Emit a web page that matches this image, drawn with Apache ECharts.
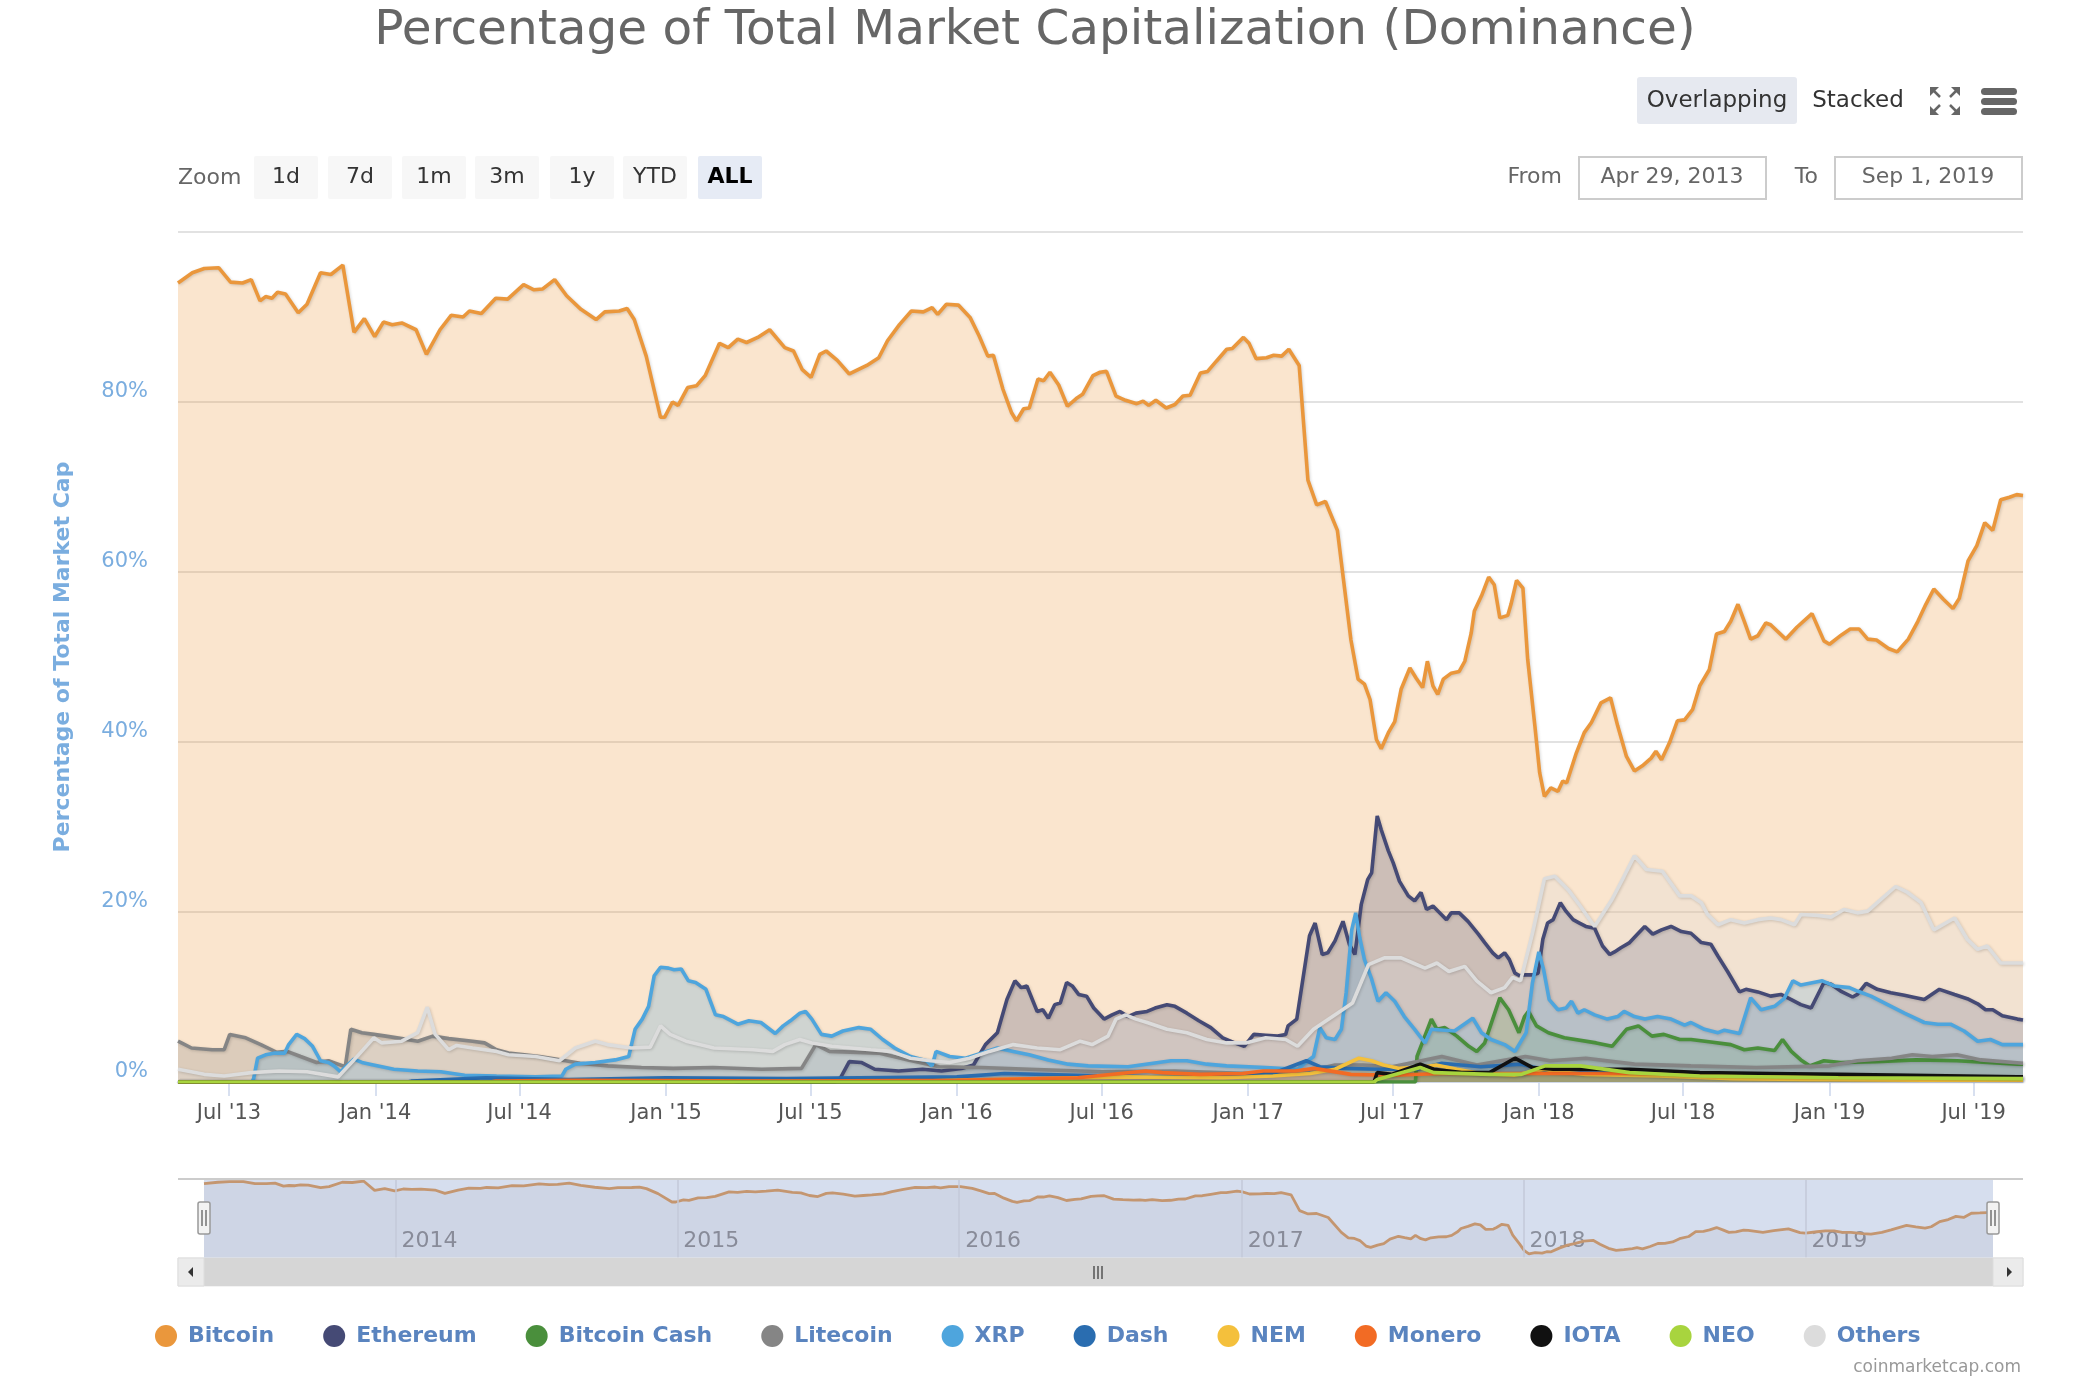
<!DOCTYPE html>
<html><head><meta charset="utf-8">
<script src="https://cdn.jsdelivr.net/npm/echarts@6/dist/echarts.min.js"></script>
<style>html,body{margin:0;padding:0;background:#fff}#c{width:2094px;height:1380px}</style>
</head><body><div id="c"></div>
<script>
// ---------------- DATA ----------------
const bitcoin = [
['2013-04-28',94.0],['2013-05-16',95.2],['2013-05-31',95.7],['2013-06-18',95.8],['2013-07-03',94.1],['2013-07-18',94.0],['2013-07-29',94.4],['2013-08-09',91.9],['2013-08-16',92.4],['2013-08-24',92.2],['2013-08-31',92.9],['2013-09-10',92.7],['2013-09-26',90.5],['2013-10-07',91.5],['2013-10-24',95.2],['2013-11-06',95.0],['2013-11-21',96.1],['2013-12-05',88.2],['2013-12-18',89.8],['2013-12-31',87.7],
['2014-01-11',89.4],['2014-01-22',89.1],['2014-02-03',89.3],['2014-02-21',88.5],['2014-03-06',85.6],['2014-03-23',88.5],['2014-04-06',90.2],['2014-04-21',90.0],['2014-04-29',90.7],['2014-05-14',90.4],['2014-06-01',92.2],['2014-06-16',92.1],['2014-07-06',93.8],['2014-07-19',93.2],['2014-07-30',93.3],['2014-08-14',94.4],['2014-08-29',92.5],['2014-09-16',90.9],['2014-10-05',89.7],['2014-10-16',90.6],['2014-11-03',90.7],['2014-11-13',91.0],['2014-11-22',89.7],['2014-12-07',85.4],['2014-12-25',78.2],['2014-12-30',78.2],
['2015-01-09',80.0],['2015-01-16',79.6],['2015-01-28',81.7],['2015-02-08',81.9],['2015-02-19',83.1],['2015-03-09',86.9],['2015-03-20',86.4],['2015-04-01',87.4],['2015-04-12',87.0],['2015-04-26',87.6],['2015-05-11',88.5],['2015-05-30',86.4],['2015-06-10',86.0],['2015-06-21',83.8],['2015-07-02',82.9],['2015-07-13',85.6],['2015-07-21',86.0],['2015-08-04',84.9],['2015-08-19',83.3],['2015-08-30',83.8],['2015-09-10',84.3],['2015-09-25',85.2],['2015-10-06',87.2],['2015-10-21',89.1],['2015-11-05',90.7],['2015-11-20',90.6],['2015-12-01',91.1],['2015-12-08',90.3],['2015-12-19',91.5],
['2016-01-03',91.4],['2016-01-18',89.9],['2016-01-29',87.8],['2016-02-09',85.4],['2016-02-16',85.5],['2016-02-28',81.5],['2016-03-10',78.7],['2016-03-16',77.8],['2016-03-25',79.2],['2016-04-01',79.3],['2016-04-12',82.7],['2016-04-19',82.5],['2016-04-27',83.5],['2016-05-08',82.0],['2016-05-19',79.5],['2016-05-30',80.4],['2016-06-07',80.9],['2016-06-20',83.1],['2016-06-29',83.5],['2016-07-07',83.6],['2016-07-19',80.7],['2016-07-31',80.2],['2016-08-14',79.8],['2016-08-22',80.1],['2016-08-29',79.6],['2016-09-07',80.2],['2016-09-20',79.3],['2016-10-01',79.7],['2016-10-11',80.7],['2016-10-20',80.8],['2016-11-02',83.4],['2016-11-11',83.6],['2016-11-22',84.8],['2016-12-05',86.2],['2016-12-12',86.3],['2016-12-26',87.6],
['2017-01-02',86.9],['2017-01-11',85.1],['2017-01-24',85.2],['2017-02-02',85.5],['2017-02-12',85.4],['2017-02-21',86.2],['2017-03-06',84.3],['2017-03-17',70.8],['2017-03-28',67.9],['2017-04-08',68.3],['2017-04-23',64.9],['2017-05-10',52.0],['2017-05-19',47.4],['2017-05-27',46.8],['2017-06-03',45.0],['2017-06-11',40.3],['2017-06-17',39.2],['2017-06-26',41.1],['2017-07-04',42.4],['2017-07-12',46.2],['2017-07-23',48.7],['2017-07-31',47.5],['2017-08-08',46.4],['2017-08-14',49.5],['2017-08-21',46.6],['2017-08-27',45.6],['2017-09-03',47.4],['2017-09-13',48.1],['2017-09-23',48.3],['2017-09-30',49.5],['2017-10-08',52.8],['2017-10-12',55.4],['2017-10-21',57.2],['2017-10-30',59.4],['2017-11-06',58.5],['2017-11-13',54.6],['2017-11-23',54.9],['2017-11-27',56.2],['2017-12-04',59.0],['2017-12-12',58.1],['2017-12-18',49.7],['2017-12-27',41.9],
['2018-01-02',36.4],['2018-01-08',33.6],['2018-01-16',34.6],['2018-01-25',34.2],['2018-01-31',35.4],['2018-02-05',35.2],['2018-02-17',38.7],['2018-02-27',41.1],['2018-03-08',42.3],['2018-03-20',44.6],['2018-04-01',45.2],['2018-04-10',41.9],['2018-04-21',38.3],['2018-05-01',36.6],['2018-05-11',37.2],['2018-05-22',38.1],['2018-05-28',38.9],['2018-06-04',37.9],['2018-06-14',39.9],['2018-06-24',42.5],['2018-07-03',42.6],['2018-07-13',43.8],['2018-07-22',46.6],['2018-08-03',48.5],['2018-08-12',52.7],['2018-08-22',53.0],['2018-08-30',54.2],['2018-09-08',56.2],['2018-09-16',54.2],['2018-09-24',52.1],['2018-10-03',52.5],['2018-10-13',54.0],['2018-10-19',53.8],['2018-11-07',52.1],['2018-11-21',53.5],['2018-12-10',55.1],['2018-12-25',51.9],
['2019-01-01',51.5],['2019-01-16',52.6],['2019-01-27',53.3],['2019-02-07',53.3],['2019-02-18',52.1],['2019-03-01',52.0],['2019-03-16',51.0],['2019-03-27',50.6],['2019-04-10',52.1],['2019-04-22',54.2],['2019-05-02',56.2],['2019-05-12',58.0],['2019-05-24',56.8],['2019-06-05',55.7],['2019-06-13',56.9],['2019-06-24',61.3],['2019-07-05',63.1],['2019-07-15',65.8],['2019-07-25',64.9],['2019-08-04',68.5],['2019-08-15',68.8],['2019-08-24',69.1],['2019-09-01',69.0]
];
const ethereum = [
['2013-04-28',0],['2015-08-01',0],
['2015-08-08',0.5],['2015-08-19',2.4],['2015-09-03',2.3],['2015-09-20',1.5],['2015-10-20',1.3],['2015-11-19',1.5],['2015-12-13',1.3],['2016-01-07',1.6],['2016-01-22',2.0],['2016-02-06',4.4],['2016-02-21',5.8],['2016-03-04',9.7],['2016-03-14',11.9],['2016-03-22',11.1],['2016-03-29',11.3],['2016-04-11',8.3],['2016-04-18',8.5],['2016-04-25',7.5],['2016-05-03',9.1],['2016-05-10',9.3],['2016-05-18',11.7],['2016-05-25',11.3],['2016-06-02',10.3],['2016-06-12',10.1],['2016-06-21',8.7],['2016-07-04',7.4],['2016-07-14',7.9],['2016-07-24',8.3],['2016-08-03',7.7],['2016-08-13',8.1],['2016-08-27',8.3],['2016-09-06',8.7],['2016-09-21',9.1],['2016-10-01',8.9],['2016-10-16',8.1],['2016-10-31',7.2],['2016-11-15',6.4],['2016-11-30',5.2],['2016-12-15',4.6],['2016-12-27',4.2],
['2017-01-08',5.6],['2017-01-23',5.5],['2017-02-07',5.4],['2017-02-17',5.6],['2017-02-20',6.6],['2017-03-03',7.4],['2017-03-19',17.2],['2017-03-26',18.7],['2017-04-04',15.0],['2017-04-11',15.2],['2017-04-20',16.6],['2017-04-30',18.9],['2017-05-08',16.2],['2017-05-15',15.0],['2017-05-23',20.9],['2017-05-31',23.8],['2017-06-05',24.6],['2017-06-12',31.3],['2017-06-17',29.7],['2017-06-26',27.2],['2017-07-02',25.8],['2017-07-10',23.6],['2017-07-21',21.9],['2017-07-29',21.3],['2017-08-06',22.3],['2017-08-13',20.3],['2017-08-21',20.7],['2017-09-07',19.1],['2017-09-13',19.9],['2017-09-23',19.9],['2017-10-04',18.9],['2017-10-17',17.4],['2017-10-25',16.4],['2017-11-04',15.2],['2017-11-11',14.6],['2017-11-19',15.2],['2017-11-25',14.4],['2017-12-02',12.8],['2017-12-08',12.5],['2017-12-14',12.6],['2017-12-24',12.6],['2017-12-31',12.8],
['2018-01-06',16.8],['2018-01-12',18.7],['2018-01-19',19.1],['2018-01-28',21.1],['2018-02-04',20.1],['2018-02-13',19.1],['2018-02-21',18.7],['2018-03-01',18.3],['2018-03-12',18.1],['2018-03-22',16.0],['2018-03-31',15.0],['2018-04-06',15.3],['2018-04-14',15.8],['2018-04-25',16.4],['2018-05-05',17.4],['2018-05-14',18.3],['2018-05-24',17.4],['2018-06-04',17.9],['2018-06-16',18.3],['2018-06-29',17.7],['2018-07-11',17.5],['2018-07-24',16.4],['2018-08-05',16.2],['2018-08-14',14.8],['2018-08-26',13.0],['2018-09-10',10.6],['2018-09-18',10.9],['2018-10-03',10.6],['2018-10-19',10.1],['2018-11-01',10.3],['2018-11-14',9.7],['2018-11-26',9.1],['2018-12-09',8.7],['2018-12-25',11.7],
['2019-01-03',11.5],['2019-01-15',10.7],['2019-01-30',10.0],['2019-02-05',10.3],['2019-02-16',11.6],['2019-03-02',10.9],['2019-03-19',10.5],['2019-04-05',10.2],['2019-04-15',10.0],['2019-04-30',9.7],['2019-05-19',10.9],['2019-06-07',10.3],['2019-06-23',9.8],['2019-07-06',9.2],['2019-07-16',8.5],['2019-07-25',8.5],['2019-08-06',7.8],['2019-08-25',7.4],['2019-09-01',7.3]
];
const bitcoinCash = [
['2013-04-28',0],['2017-07-30',0],
['2017-08-01',3.0],['2017-08-19',7.4],['2017-08-26',6.2],['2017-09-05',6.4],['2017-09-20',5.4],['2017-10-05',4.2],['2017-10-15',3.6],['2017-10-25',4.6],['2017-11-04',7.4],['2017-11-13',9.9],['2017-11-24',8.5],['2017-12-07',5.8],['2017-12-14',7.7],['2017-12-19',8.3],['2017-12-29',6.6],['2018-01-13',5.8],['2018-02-02',5.2],['2018-03-14',4.6],['2018-04-03',4.2],['2018-04-21',6.2],['2018-05-06',6.6],['2018-05-23',5.4],['2018-06-07',5.6],['2018-06-27',5.0],['2018-07-11',5.0],['2018-08-05',4.7],['2018-08-30',4.4],['2018-09-16',3.8],['2018-10-03',4.0],['2018-10-24',3.7],['2018-11-03',5.0],['2018-11-14',3.6],['2018-11-26',2.6],['2018-12-07',1.9],['2018-12-25',2.5],['2019-01-15',2.3],['2019-03-01',2.4],['2019-04-20',2.6],['2019-06-10',2.5],['2019-08-25',2.1],['2019-09-01',2.1]
];
const litecoin = [
['2013-04-28',4.8],['2013-05-15',4.0],['2013-06-10',3.8],['2013-06-25',3.8],['2013-07-02',5.6],['2013-07-22',5.2],['2013-08-10',4.4],['2013-08-30',3.5],['2013-09-12',3.6],['2013-09-29',3.0],['2013-10-19',2.3],['2013-11-03',2.5],['2013-11-15',2.1],['2013-11-24',1.8],['2013-12-01',6.2],['2013-12-15',5.8],['2013-12-30',5.6],['2014-01-14',5.4],['2014-02-03',5.1],['2014-02-23',4.8],['2014-03-14',5.4],['2014-04-03',5.1],['2014-05-03',4.8],['2014-05-18',4.6],['2014-06-02',3.8],['2014-06-17',3.4],['2014-07-07',3.2],['2014-07-26',3.0],['2014-08-15',2.7],['2014-09-15',2.2],['2014-10-20',1.9],['2014-12-01',1.7],['2015-01-10',1.6],['2015-03-01',1.7],['2015-05-01',1.5],['2015-06-20',1.6],['2015-07-08',4.4],['2015-07-25',3.6],['2015-09-25',3.4],['2015-11-01',2.6],['2015-12-10',1.8],['2016-02-01',1.7],['2016-04-01',1.5],['2016-07-01',1.2],['2016-10-01',1.3],['2017-01-01',1.0],['2017-03-15',1.2],['2017-04-20',2.0],['2017-05-25',2.0],['2017-07-01',1.8],['2017-09-01',3.0],['2017-10-15',2.0],['2017-12-15',3.0],['2018-01-15',2.5],['2018-03-01',2.8],['2018-05-01',2.1],['2018-07-11',1.9],['2018-10-01',1.7],['2019-01-01',1.9],['2019-02-05',2.5],['2019-03-20',2.8],['2019-04-15',3.2],['2019-05-10',3.0],['2019-06-10',3.2],['2019-07-10',2.6],['2019-09-01',2.2]
];
const xrp = [
['2013-04-28',0],['2013-07-30',0],
['2013-08-01',0.4],['2013-08-06',2.8],['2013-08-16',3.2],['2013-08-28',3.4],['2013-09-09',3.4],['2013-09-14',4.4],['2013-09-24',5.6],['2013-10-04',5.1],['2013-10-14',4.2],['2013-10-24',2.5],['2013-11-03',2.3],['2013-11-10',1.9],['2013-11-18',1.2],['2013-12-05',2.7],['2013-12-15',2.3],['2013-12-25',2.1],['2014-01-24',1.5],['2014-02-23',1.3],['2014-03-24',1.2],['2014-04-23',0.8],['2014-06-02',0.7],['2014-07-21',0.6],['2014-08-23',0.7],['2014-08-28',1.5],['2014-09-09',2.1],['2014-10-04',2.3],['2014-10-29',2.6],['2014-11-15',3.0],['2014-11-23',6.2],['2014-12-02',7.4],['2014-12-10',8.9],['2014-12-17',12.5],['2014-12-25',13.5],
['2015-01-04',13.4],['2015-01-11',13.2],['2015-01-20',13.3],['2015-01-29',11.9],['2015-02-07',11.7],['2015-02-20',10.9],['2015-03-04',7.9],['2015-03-14',7.7],['2015-04-01',6.8],['2015-04-15',7.2],['2015-04-30',7.0],['2015-05-18',5.7],['2015-05-28',6.6],['2015-06-06',7.2],['2015-06-18',8.1],['2015-06-25',8.3],['2015-07-03',7.4],['2015-07-15',5.6],['2015-07-28',5.4],['2015-08-11',6.0],['2015-08-31',6.4],['2015-09-15',6.2],['2015-09-30',5.0],['2015-10-15',4.0],['2015-11-04',3.0],['2015-11-24',2.5],['2015-12-01',1.9],['2015-12-06',3.6],['2015-12-23',3.0],
['2016-01-12',2.8],['2016-02-01',3.4],['2016-02-21',4.0],['2016-03-12',3.6],['2016-04-01',3.2],['2016-04-25',2.6],['2016-05-20',2.1],['2016-06-14',1.9],['2016-08-03',1.8],['2016-09-26',2.5],['2016-10-16',2.5],['2016-11-10',2.1],['2016-12-05',1.9],['2017-01-23',1.7],['2017-03-04',1.5],['2017-03-14',2.3],['2017-03-24',3.0],['2017-04-01',6.4],['2017-04-09',5.2],['2017-04-20',5.0],['2017-04-28',6.2],['2017-05-04',10.5],['2017-05-11',17.9],['2017-05-16',19.9],['2017-05-21',17.0],['2017-05-27',14.4],['2017-06-05',12.1],['2017-06-13',9.5],['2017-06-23',10.5],['2017-07-04',9.5],['2017-07-16',7.7],['2017-07-29',6.2],['2017-08-11',4.6],['2017-08-19',6.2],['2017-09-17',6.0],['2017-10-10',7.5],['2017-10-21',5.8],['2017-11-02',5.0],['2017-11-19',4.4],['2017-12-02',3.6],['2017-12-16',5.8],['2017-12-24',11.7],
['2018-01-01',15.3],['2018-01-07',13.2],['2018-01-14',9.7],['2018-01-25',8.5],['2018-02-04',8.7],['2018-02-11',9.5],['2018-02-19',8.1],['2018-02-27',8.5],['2018-03-12',7.9],['2018-03-28',7.4],['2018-04-10',7.7],['2018-04-18',8.3],['2018-05-01',7.7],['2018-05-14',7.4],['2018-05-30',7.7],['2018-06-16',7.4],['2018-07-03',6.7],['2018-07-11',7.0],['2018-07-28',6.2],['2018-08-14',5.8],['2018-08-22',6.1],['2018-09-10',5.7],['2018-09-24',9.9],['2018-10-07',8.5],['2018-10-24',8.9],['2018-11-05',9.8],['2018-11-16',11.9],['2018-11-26',11.4],['2018-12-23',11.9],
['2019-01-07',11.3],['2019-01-26',11.1],['2019-02-05',10.7],['2019-02-22',10.1],['2019-03-15',9.1],['2019-04-05',8.1],['2019-04-30',7.0],['2019-05-17',6.8],['2019-06-02',6.8],['2019-06-19',6.0],['2019-07-06',4.8],['2019-07-22',5.0],['2019-08-06',4.4],['2019-08-25',4.4],['2019-09-01',4.4]
];
const dash = [
['2013-04-28',0],['2014-02-10',0],
['2014-02-15',0.1],['2014-05-20',0.5],['2014-09-01',0.3],['2015-01-01',0.5],['2015-06-01',0.4],['2016-01-01',0.6],['2016-03-01',1.0],['2016-06-01',0.8],['2016-09-01',0.6],['2016-12-01',0.8],['2017-02-01',1.0],['2017-03-15',2.5],['2017-04-01',1.8],['2017-05-01',1.6],['2017-06-15',1.5],['2017-08-01',1.5],['2017-09-01',2.2],['2017-10-20',1.8],['2017-12-10',2.1],['2018-01-15',1.3],['2018-04-01',1.3],['2018-07-01',1.0],['2018-10-01',0.9],['2019-01-01',0.6],['2019-05-01',0.6],['2019-09-01',0.4]
];
const nem = [
['2013-04-28',0],['2015-03-25',0],
['2015-04-01',0.05],['2015-12-01',0.15],['2016-06-01',0.5],['2016-08-01',0.6],['2016-12-01',0.5],['2017-02-01',0.7],['2017-03-20',1.0],['2017-04-20',1.5],['2017-05-20',2.8],['2017-06-05',2.5],['2017-06-20',2.0],['2017-07-10',1.6],['2017-08-10',1.8],['2017-08-25',2.0],['2017-09-20',1.5],['2017-10-20',1.0],['2017-12-01',0.8],['2018-01-07',1.5],['2018-01-25',1.2],['2018-03-01',0.9],['2018-06-01',0.7],['2018-09-01',0.4],['2018-12-01',0.3],['2019-05-01',0.2],['2019-09-01',0.2]
];
const monero = [
['2013-04-28',0],['2014-05-25',0],
['2014-06-01',0.1],['2014-09-01',0.2],['2015-06-01',0.1],['2016-01-01',0.2],['2016-06-01',0.5],['2016-08-25',1.3],['2016-09-15',1.1],['2016-11-01',0.9],['2016-12-25',1.0],['2017-01-20',1.3],['2017-03-01',1.3],['2017-03-25',1.6],['2017-05-10',0.9],['2017-07-01',0.8],['2017-09-01',1.0],['2017-12-01',1.0],['2018-02-01',1.0],['2018-05-01',1.0],['2018-08-01',0.8],['2018-12-01',0.7],['2019-05-01',0.7],['2019-09-01',0.5]
];
const iota = [
['2013-04-28',0],['2017-06-08',0],
['2017-06-12',1.1],['2017-06-30',0.9],['2017-08-05',2.1],['2017-08-22',1.5],['2017-09-26',1.1],['2017-10-31',1.1],['2017-12-02',2.8],['2017-12-24',1.7],['2018-01-19',1.5],['2018-04-25',1.5],['2018-07-22',1.1],['2018-10-18',1.0],['2019-01-12',0.9],['2019-08-25',0.6],['2019-09-01',0.6]
];
const neo = [
['2013-04-28',0],['2017-06-08',0],
['2017-06-12',0.3],['2017-08-05',1.7],['2017-08-22',1.1],['2017-10-31',0.9],['2017-12-10',0.9],['2018-01-09',1.9],['2018-02-22',1.9],['2018-04-25',1.1],['2018-07-22',0.7],['2019-01-12',0.5],['2019-08-25',0.4],['2019-09-01',0.4]
];
const others = [
['2013-04-28',1.5],['2013-05-31',0.9],['2013-06-25',0.7],['2013-07-29',1.1],['2013-09-02',1.3],['2013-10-07',1.2],['2013-11-15',0.6],['2013-12-05',2.6],['2013-12-30',5.2],['2014-01-09',4.6],['2014-02-03',4.8],['2014-02-23',5.8],['2014-03-07',8.8],['2014-03-17',5.6],['2014-04-03',3.8],['2014-04-13',4.3],['2014-05-03',4.0],['2014-06-02',3.6],['2014-06-17',3.2],['2014-07-21',3.0],['2014-08-20',2.5],['2014-09-09',4.0],['2014-10-04',4.8],['2014-10-19',4.4],['2014-11-18',4.0],['2014-12-12',4.1],['2014-12-25',6.6],
['2015-01-06',5.6],['2015-01-26',4.8],['2015-03-02',4.0],['2015-04-20',3.8],['2015-05-15',3.6],['2015-05-30',4.4],['2015-06-18',5.0],['2015-07-03',4.6],['2015-07-28',4.2],['2015-09-15',3.8],['2015-10-10',3.6],['2015-11-04',2.8],['2015-11-29',2.5],['2015-12-23',2.3],
['2016-01-17',2.8],['2016-02-11',3.6],['2016-03-12',4.4],['2016-04-11',4.0],['2016-05-10',3.8],['2016-06-04',4.8],['2016-06-19',4.4],['2016-07-09',5.4],['2016-07-19',7.4],['2016-07-31',7.9],['2016-08-13',7.4],['2016-08-27',7.0],['2016-09-21',6.2],['2016-10-16',5.8],['2016-11-10',5.0],['2016-12-05',4.6],['2016-12-29',4.6],
['2017-01-23',5.2],['2017-02-17',5.0],['2017-03-04',4.2],['2017-03-24',6.2],['2017-04-23',8.1],['2017-05-12',9.3],['2017-06-01',13.8],['2017-06-21',14.6],['2017-07-12',14.6],['2017-07-27',14.0],['2017-08-11',13.4],['2017-08-26',14.0],['2017-09-10',13.0],['2017-09-30',13.6],['2017-10-15',11.9],['2017-11-02',10.5],['2017-11-19',11.1],['2017-11-29',12.3],['2017-12-09',11.9],['2017-12-24',17.5],
['2018-01-08',23.9],['2018-01-21',24.2],['2018-02-07',22.6],['2018-02-22',20.7],['2018-03-12',18.3],['2018-04-03',21.5],['2018-04-18',24.2],['2018-05-01',26.6],['2018-05-16',25.0],['2018-06-05',24.8],['2018-06-27',21.9],['2018-07-11',21.9],['2018-07-24',21.1],['2018-08-01',19.7],['2018-08-14',18.5],['2018-08-30',19.1],['2018-09-16',18.7],['2018-10-03',19.1],['2018-10-19',19.3],['2018-11-01',19.1],['2018-11-18',18.5],['2018-11-26',19.7],['2018-12-17',19.6],
['2019-01-03',19.4],['2019-01-19',20.3],['2019-02-05',19.9],['2019-02-18',20.1],['2019-03-02',21.1],['2019-03-25',23.0],['2019-04-09',22.3],['2019-04-26',21.1],['2019-05-12',17.9],['2019-06-07',19.3],['2019-06-23',16.8],['2019-07-06',15.6],['2019-07-18',16.0],['2019-08-04',14.0],['2019-08-25',14.0],['2019-09-01',14.0]
];

const seriesNames  = ['Bitcoin','Ethereum','Bitcoin Cash','Litecoin','XRP','Dash','NEM','Monero','IOTA','NEO','Others'];
const seriesColors = ['#ea973c','#454a75','#4a8f3c','#858585','#4ea5dd','#2a6db0','#f4c03c','#f26b24','#111111','#a8d43e','#dcdcdc'];
const seriesData   = [bitcoin, ethereum, bitcoinCash, litecoin, xrp, dash, nem, monero, iota, neo, others];

const xTickDates  = ['2013-07-01','2014-01-01','2014-07-01','2015-01-01','2015-07-01','2016-01-01','2016-07-01','2017-01-01','2017-07-01','2018-01-01','2018-07-01','2019-01-01','2019-07-01'];
const xTickLabels = ["Jul '13","Jan '14","Jul '14","Jan '15","Jul '15","Jan '16","Jul '16","Jan '17","Jul '17","Jan '18","Jul '18","Jan '19","Jul '19"];
const navYearDates  = ['2014-01-01','2015-01-01','2016-01-01','2017-01-01','2018-01-01','2019-01-01'];
const navYearLabels = ['2014','2015','2016','2017','2018','2019'];
const rangeStart = '2013-04-28', rangeEnd = '2019-09-01';
const yMax = 100, yStep = 20;
const zoomButtons = ['1d','7d','1m','3m','1y','YTD','ALL'];
const fromLabel = 'Apr 29, 2013', toLabel = 'Sep 1, 2019';

// ---------------- HELPERS ----------------
function ts(s){ const p = s.split('-').map(Number); return Date.UTC(p[0], p[1]-1, p[2]); }
const FONT = 'DejaVu Sans, Verdana, sans-serif';
const tickTs = xTickDates.map(ts);
const navTs = navYearDates.map(ts);

const chart = echarts.init(document.getElementById('c'), null, {renderer:'canvas'});

const mainSeries = seriesNames.map((n,i)=>({
  name:n, type:'line', xAxisIndex:0, yAxisIndex:0,
  data: seriesData[i].map(d=>[ts(d[0]), d[1]]),
  showSymbol:false, symbol:'none', silent:true,
  lineStyle:{color:seriesColors[i], width:3.6, shadowColor:'rgba(0,0,0,0.16)', shadowBlur:3, shadowOffsetX:1, shadowOffsetY:1},
  itemStyle:{color:seriesColors[i]},
  areaStyle:{color:seriesColors[i], opacity:0.25},
  z: 2
}));

const navSeries = {
  name:'nav', type:'line', xAxisIndex:1, yAxisIndex:1,
  data: bitcoin.map(d=>[ts(d[0]), d[1]]),
  showSymbol:false, symbol:'none', silent:true,
  lineStyle:{color:'#c49670', width:2.8},
  areaStyle:{color:'rgba(120,105,110,0.10)'},
  markLine:{silent:true, symbol:'none', label:{show:false}, lineStyle:{color:'#c3c9d9', width:1.5, type:'solid'},
    data: navTs.map(t=>({xAxis:t}))}
};

// decorative graphics (controls)
const g = [];
g.push({type:'text', x:1035, y:31, style:{text:'Percentage of Total Market Capitalization (Dominance)', fontSize:48.5, fontFamily:FONT, fill:'#666666', align:'center', verticalAlign:'middle'}});
g.push({type:'rect', shape:{x:1637,y:77,width:160,height:47,r:3}, style:{fill:'#e6e9f0'}});
g.push({type:'text', x:1717, y:101, style:{text:'Overlapping', fontSize:23, fontFamily:FONT, fill:'#333', align:'center', verticalAlign:'middle'}});
g.push({type:'text', x:1858, y:101, style:{text:'Stacked', fontSize:23, fontFamily:FONT, fill:'#333', align:'center', verticalAlign:'middle'}});
const fx=1930, fy=87, fw=30, fh=28, ah=9;
[[fx,fy,1,1],[fx+fw,fy,-1,1],[fx,fy+fh,1,-1],[fx+fw,fy+fh,-1,-1]].forEach(c=>{
  g.push({type:'polygon', shape:{points:[[c[0],c[1]],[c[0]+c[2]*ah,c[1]],[c[0],c[1]+c[3]*ah]]}, style:{fill:'#666'}});
  g.push({type:'line', shape:{x1:c[0]+c[2]*3,y1:c[1]+c[3]*3,x2:c[0]+c[2]*10,y2:c[1]+c[3]*10}, style:{stroke:'#666', lineWidth:2.5}});
});
[88,98,108].forEach(y=>g.push({type:'rect', shape:{x:1981,y:y,width:36,height:7,r:3.5}, style:{fill:'#666'}}));
g.push({type:'text', x:178, y:178, style:{text:'Zoom', fontSize:22, fontFamily:FONT, fill:'#666', align:'left', verticalAlign:'middle'}});
const btnX = [254,328,402,475,550,623,698];
zoomButtons.forEach((b,i)=>{
  const active = b==='ALL';
  g.push({type:'rect', shape:{x:btnX[i],y:156,width:64,height:43,r:2}, style:{fill: active?'#e6ebf5':'#f7f7f7'}});
  g.push({type:'text', x:btnX[i]+32, y:177, style:{text:b, fontSize:22, fontFamily:FONT, fontWeight: active?'bold':'normal', fill: active?'#000':'#333', align:'center', verticalAlign:'middle'}});
});
g.push({type:'text', x:1562, y:177, style:{text:'From', fontSize:22, fontFamily:FONT, fill:'#666', align:'right', verticalAlign:'middle'}});
g.push({type:'rect', shape:{x:1579,y:157,width:187,height:42}, style:{fill:'#fff', stroke:'#cccccc', lineWidth:2}});
g.push({type:'text', x:1672, y:177, style:{text:fromLabel, fontSize:22, fontFamily:FONT, fill:'#666', align:'center', verticalAlign:'middle'}});
g.push({type:'text', x:1818, y:177, style:{text:'To', fontSize:22, fontFamily:FONT, fill:'#666', align:'right', verticalAlign:'middle'}});
g.push({type:'rect', shape:{x:1835,y:157,width:187,height:42}, style:{fill:'#fff', stroke:'#cccccc', lineWidth:2}});
g.push({type:'text', x:1928, y:177, style:{text:toLabel, fontSize:22, fontFamily:FONT, fill:'#666', align:'center', verticalAlign:'middle'}});
g.push({type:'line', shape:{x1:178,y1:1179,x2:2023,y2:1179}, style:{stroke:'#cccccc', lineWidth:2}, z:10});
[204,1993].forEach(x=>{
  g.push({type:'rect', shape:{x:x-6,y:1202,width:12,height:32,r:2}, style:{fill:'#f2f2f2', stroke:'#999', lineWidth:1.5}, z:11});
  g.push({type:'line', shape:{x1:x-2,y1:1210,x2:x-2,y2:1226}, style:{stroke:'#333', lineWidth:1}, z:12});
  g.push({type:'line', shape:{x1:x+2,y1:1210,x2:x+2,y2:1226}, style:{stroke:'#333', lineWidth:1}, z:12});
});
g.push({type:'rect', shape:{x:178,y:1258,width:1845,height:28}, style:{fill:'#f2f2f2', stroke:'#e8e8e8', lineWidth:1}, z:9});
g.push({type:'rect', shape:{x:204,y:1258,width:1789,height:28}, style:{fill:'#d6d6d6'}, z:10});
[1094,1098,1102].forEach(x=>g.push({type:'line', shape:{x1:x,y1:1266,x2:x,y2:1279}, style:{stroke:'#333', lineWidth:1.2}, z:11}));
g.push({type:'rect', shape:{x:178,y:1258,width:26,height:28}, style:{fill:'#ebebeb', stroke:'#ddd', lineWidth:1}, z:10});
g.push({type:'rect', shape:{x:1993,y:1258,width:30,height:28}, style:{fill:'#ebebeb', stroke:'#ddd', lineWidth:1}, z:10});
g.push({type:'polygon', shape:{points:[[188,1272],[193,1267],[193,1277]]}, style:{fill:'#333'}, z:11});
g.push({type:'polygon', shape:{points:[[2012,1272],[2007,1267],[2007,1277]]}, style:{fill:'#333'}, z:11});
g.push({type:'text', x:2021, y:1368, style:{text:'coinmarketcap.com', fontSize:17, fontFamily:FONT, fill:'#999', align:'right', verticalAlign:'middle'}});

const option = {
  animation:false,
  backgroundColor:'#ffffff',
  textStyle:{fontFamily:FONT},
  grid:[
    {left:178, right:71, top:232, height:850},
    {left:204, width:1789, top:1179, height:79, show:true, backgroundColor:'rgba(102,133,194,0.27)', borderWidth:0}
  ],
  xAxis:[
    {type:'value', gridIndex:0, min:ts(rangeStart), max:ts(rangeEnd), scale:true,
     axisLine:{show:true, lineStyle:{color:'#ccd6eb', width:1.5}},
     axisTick:{show:true, length:14, lineStyle:{color:'#ccd6eb', width:1.5}, customValues:tickTs},
     axisLabel:{customValues:tickTs, color:'#555', fontSize:21, fontFamily:FONT, margin:21,
       formatter:(v)=>{ const i = tickTs.indexOf(v); return i>=0 ? xTickLabels[i] : ''; }},
     splitLine:{show:false}},
    {type:'value', gridIndex:1, min:ts(rangeStart), max:ts(rangeEnd), scale:true,
     axisLine:{show:false}, axisTick:{show:false},
     axisLabel:{customValues:navTs, inside:true, color:'#8a8f9c', fontSize:22, fontFamily:FONT, align:'left', margin:6, padding:[0,0,0,6],
       formatter:(v)=>{ const i = navTs.indexOf(v); return i>=0 ? navYearLabels[i] : ''; }},
     splitLine:{show:false}}
  ],
  yAxis:[
    {type:'value', gridIndex:0, min:0, max:yMax, interval:yStep,
     axisLine:{show:false}, axisTick:{show:false},
     axisLabel:{color:'#7aaddf', fontSize:21, fontFamily:FONT, margin:30, verticalAlign:'bottom',
       formatter:(v)=> v===yMax ? '' : v+'%'},
     splitLine:{show:true, lineStyle:{color:'#e2e2e2', width:2}},
     name:'Percentage of Total Market Cap', nameLocation:'middle', nameGap:104,
     nameTextStyle:{color:'#7aaddf', fontSize:22, fontWeight:'bold', fontFamily:FONT}},
    {type:'value', gridIndex:1, min:30, max:98, show:false, splitLine:{show:false}}
  ],
  legend:{
    data:seriesNames, left:150, top:1320, icon:'circle', itemWidth:22, itemHeight:22, itemGap:49,
    textStyle:{color:'#5a84bf', fontSize:22, fontWeight:'bold', fontFamily:FONT, padding:[0,0,0,6]},
    selectedMode:false
  },
  series: mainSeries.concat([navSeries]),
  graphic: g
};
chart.setOption(option);
</script>
</body></html>
